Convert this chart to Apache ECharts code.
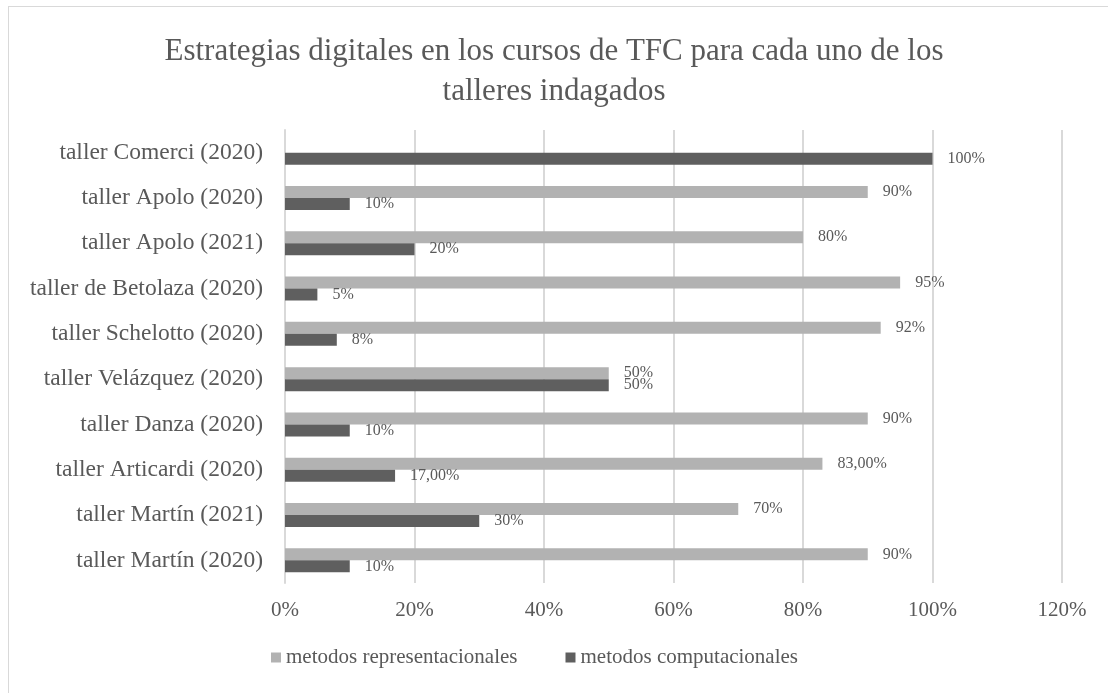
<!DOCTYPE html>
<html lang="es">
<head>
<meta charset="utf-8">
<title>Estrategias digitales</title>
<script src="https://cdn.jsdelivr.net/npm/echarts@6/dist/echarts.min.js"></script>
<style>
  html, body { margin: 0; padding: 0; background: #fff; }
  #frame { position: absolute; left: 8px; top: 6px; width: 1120px; height: 720px; border: 1px solid #d9d9d9; }
  #container { position: absolute; left: 0; top: 0; width: 1108px; height: 693px; }
</style>
</head>
<body>
<div id="frame"></div>
<div id="container"></div>
<script>
// categorias de abajo hacia arriba
var talleres = ['taller Martín (2020)', 'taller Martín (2021)', 'taller Articardi (2020)', 'taller Danza (2020)',
  'taller Velázquez (2020)', 'taller Schelotto (2020)', 'taller de Betolaza (2020)', 'taller Apolo (2021)',
  'taller Apolo (2020)', 'taller Comerci (2020)'];
var representacionales = [90, 70, 83, 90, 50, 92, 95, 80, 90, null];
var computacionales = [10, 30, 17, 10, 50, 8, 5, 20, 10, 100];
var etiquetasRep = ['90%', '70%', '83,00%', '90%', '50%', '92%', '95%', '80%', '90%', ''];
var etiquetasComp = ['10%', '30%', '17,00%', '10%', '50%', '8%', '5%', '20%', '10%', '100%'];
var ticksX = ['0%', '20%', '40%', '60%', '80%', '100%', '120%'];

var fuente = '"Liberation Serif", "Times New Roman", serif';
var gris = '#595959';

var myChart = echarts.init(document.getElementById('container'));
var option = {
  animation: false,
  title: {
    text: 'Estrategias digitales en los cursos de TFC para cada uno de los\ntalleres indagados',
    left: 'center',
    top: 27,
    textStyle: { fontFamily: fuente, fontSize: 31, fontWeight: 'normal', color: gris, lineHeight: 40, align: 'center' }
  },
  legend: {
    bottom: 20,
    left: 266,
    itemWidth: 10,
    itemHeight: 10,
    itemGap: 48,
    icon: 'rect',
    textStyle: { fontFamily: fuente, fontSize: 21, color: gris },
    data: ['metodos representacionales', 'metodos computacionales']
  },
  grid: { left: 285, right: 46, top: 130, bottom: 110, containLabel: false },
  xAxis: {
    type: 'value',
    min: 0,
    max: 120,
    interval: 20,
    axisLine: { show: false },
    axisTick: { show: false },
    splitLine: { lineStyle: { color: '#d9d9d9', width: 2 } },
    axisLabel: {
      fontFamily: fuente, fontSize: 21, color: gris, margin: 17,
      formatter: function (v) { return ticksX[Math.round(v / 20)]; }
    }
  },
  yAxis: {
    type: 'category',
    data: talleres,
    axisLine: { lineStyle: { color: '#d9d9d9', width: 2 } },
    axisTick: { show: false },
    axisLabel: { fontFamily: fuente, fontSize: 23.5, color: gris, margin: 22 }
  },
  series: [
    {
      name: 'metodos representacionales',
      type: 'bar',
      data: representacionales,
      barGap: '0%',
      barCategoryGap: '47%',
      itemStyle: { color: '#b2b2b2' },
      label: {
        show: true, position: 'right', distance: 15,
        fontFamily: fuente, fontSize: 16, color: gris,
        formatter: function (p) { return etiquetasRep[p.dataIndex]; }
      }
    },
    {
      name: 'metodos computacionales',
      type: 'bar',
      data: computacionales,
      barGap: '0%',
      barCategoryGap: '47%',
      itemStyle: { color: '#5f5f5f' },
      label: {
        show: true, position: 'right', distance: 15,
        fontFamily: fuente, fontSize: 16, color: gris,
        formatter: function (p) { return etiquetasComp[p.dataIndex]; }
      }
    }
  ]
};
myChart.setOption(option);
</script>
</body>
</html>
